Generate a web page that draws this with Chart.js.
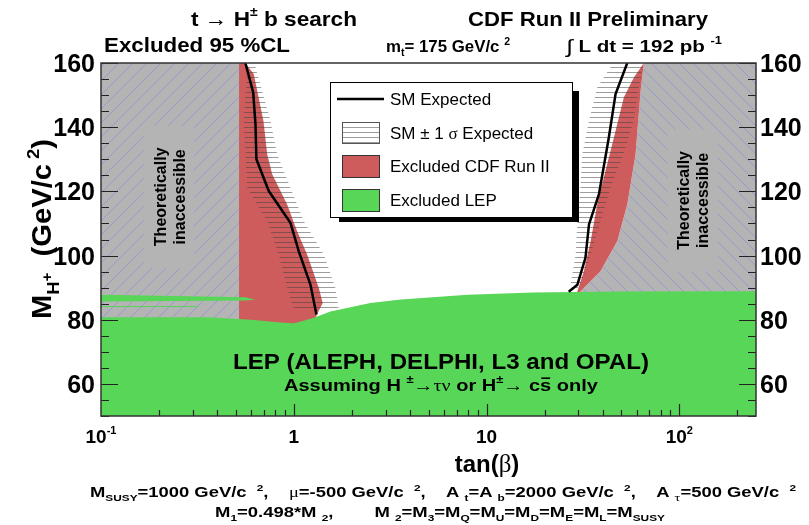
<!DOCTYPE html>
<html>
<head>
<meta charset="utf-8">
<script src="https://cdn.jsdelivr.net/npm/chart.js@4.4.0/dist/chart.umd.min.js"></script>
<style>
  body { margin: 0; background: #fff; }
  #wrap { width: 809px; height: 525px; }
</style>
</head>
<body>
<div id="wrap"><canvas id="grafik" width="809" height="525"></canvas></div>
<script>
// --- values (x = tan(beta), y = M_H+ in GeV/c^2) ---

// left "theoretically inaccessible" area
const leftGrayX = [0.1, 0.52, 0.52, 0.1];
const leftGrayY = [160, 160, 75, 75];

// right "theoretically inaccessible" area
const rightGrayX = [65.5, 63, 59.3, 53.7, 47.7, 39, 30.8, 28, 250, 250];
const rightGrayY = [160, 151.3, 131.6, 115.9, 104.5, 95.1, 88.9, 85, 85, 160];

// CDF Run II exclusion, low tan(beta)
const cdfLeftX = [0.52, 0.52, 0.561, 0.62, 0.696, 0.728, 0.773, 0.924, 1.041, 1.173, 1.349, 1.413, 1.32, 1.2, 0.52];
const cdfLeftY = [75, 160, 160, 156.6, 142, 131.6, 125.3, 115.9, 107.6, 100.3, 89.9, 85.2, 81.6, 75, 75];

// CDF Run II exclusion, high tan(beta)
const cdfRightX = [29.0, 29.6, 32, 34.7, 37.5, 40.6, 45.8, 51.6, 58.1, 65.5, 63, 59.3, 53.7, 47.7, 39, 30.8, 29.0];
const cdfRightY = [86, 88.9, 95.1, 104.5, 115.9, 124.3, 136.8, 149.3, 155.5, 160, 151.3, 131.6, 115.9, 104.5, 95.1, 88.9, 86];

// SM +-1 sigma expected bands
const bandLeftX = [1.0, 0.924, 0.836, 0.728, 0.573, 0.55, 0.573, 0.575, 0.64, 0.633, 0.757, 0.82, 0.96, 1.127, 1.432, 1.645, 1.71];
const bandLeftY = [83.6, 89.9, 100.3, 110.7, 121.2, 142, 158.7, 160, 160, 158.7, 142, 131.6, 121.2, 110.7, 100.3, 89.9, 83.6];
const bandRightX = [27.3, 29, 29.6, 30.7, 31.4, 34, 37.5, 44, 46, 66, 64.3, 57.9, 51.4, 44, 39, 34.7, 30.7, 28.5];
const bandRightY = [90.9, 100.3, 110.7, 121.2, 131.6, 142, 152.4, 158.7, 160, 160, 158.7, 142, 131.6, 121.2, 110.7, 100.3, 90.9, 88.5];

// SM expected limit
const smLeftX = [0.561, 0.616, 0.633, 0.64, 0.742, 0.961, 1.062, 1.221, 1.311];
const smLeftY = [160, 150.8, 140.9, 130, 120.1, 110.2, 101.3, 90.9, 81.6];
const smRightX = [53.7, 46.7, 43.1, 38.3, 34, 32.6, 29.6, 26.7];
const smRightY = [160, 150.3, 136.8, 119.1, 109.7, 99.3, 90.9, 88.7];

// LEP exclusion
const lepX = [0.1, 0.36, 0.6, 0.85, 1.0, 1.1, 1.26, 1.55, 2.5, 3.6, 8, 17.5, 50, 250, 250, 0.1];
const lepY = [80.8, 80.8, 80.0, 79.1, 78.9, 79.5, 80.5, 82.6, 85.2, 86.3, 87.8, 88.5, 88.8, 88.9, 50, 50];
const lepStripX = [0.1, 0.56, 0.63, 0.56, 0.1];
const lepStripY = [87.8, 87.0, 86.25, 86.0, 85.7];
const lepThinX = [0.1, 0.32];
const lepThinY = [84.1, 84.1];

// axes
const yMajorTicks = [60, 80, 100, 120, 140, 160];
const yMinorStep = 5;
const xDecades = [0.1, 1, 10, 100];
const xTickLabels = [[["10"], ["-1", 0.6, -0.5]], [["1"]], [["10"]], [["10"], ["2", 0.6, -0.5]]];
const legendLabels = ["SM Expected", "SM \u00b1 1 ", "Excluded CDF Run II", "Excluded LEP"];

const FONT = '"Liberation Sans", Arial, Helvetica, sans-serif';
const RED = "#cf5c5c";
const GREEN = "#57d657";
const GRAY = "#b4b4b4";

const pts = (xs, ys) => xs.map((x, i) => ({ x: x, y: ys[i] }));

// hatch patterns
const makeDiag = (dir) => {
  const n = 14;
  const c = document.createElement("canvas");
  c.width = n; c.height = n;
  const g = c.getContext("2d");
  g.fillStyle = GRAY;
  g.fillRect(0, 0, n, n);
  g.strokeStyle = "rgba(125,125,235,0.6)";
  g.lineWidth = 0.8;
  g.beginPath();
  if (dir > 0) { g.moveTo(-2, n + 2); g.lineTo(n + 2, -2); }
  else { g.moveTo(-2, -2); g.lineTo(n + 2, n + 2); }
  g.stroke();
  return g.createPattern(c, "repeat");
};
const makeHoriz = () => {
  const c = document.createElement("canvas");
  c.width = 6; c.height = 5;
  const g = c.getContext("2d");
  g.fillStyle = "rgba(60,60,60,0.5)";
  g.fillRect(0, 2, 6, 1);
  return g.createPattern(c, "repeat");
};
const hatchL = makeDiag(1);
const hatchR = makeDiag(-1);
const hatchH = makeHoriz();

const area = (xs, ys, bg, order) => ({
  data: pts(xs, ys), backgroundColor: bg, borderColor: "rgba(0,0,0,0)", borderWidth: 1,
  fill: "shape", pointRadius: 0, tension: 0, order: order
});
const curve = (xs, ys, color, width, order) => ({
  data: pts(xs, ys), borderColor: color, borderWidth: width, fill: false,
  pointRadius: 0, tension: 0, order: order
});

// text with sub/superscripts: parts = [text, sizeFactor, dyFactor, kind]
function richText(ctx, parts, x, y, size, align, fitW) {
  const fontOf = (p) => {
    const s = Math.round(size * (p[1] || 1));
    if (p[3] === "g") return s + 'px "Liberation Serif", serif';
    if (p[3] === "r") return s + "px " + FONT;
    return "bold " + s + "px " + FONT;
  };
  let w = 0;
  parts.forEach((p) => { ctx.font = fontOf(p); w += ctx.measureText(p[0]).width; });
  const k = fitW ? fitW / w : 1;
  const tw = w * k;
  const x0 = align === "center" ? x - tw / 2 : align === "right" ? x - tw : x;
  ctx.save();
  ctx.translate(x0, y);
  ctx.scale(k, 1);
  ctx.textAlign = "left";
  ctx.textBaseline = "alphabetic";
  let cx = 0;
  parts.forEach((p) => {
    ctx.font = fontOf(p);
    const dy = (p[2] || 0) * size;
    ctx.fillText(p[0], cx, dy);
    const pw = ctx.measureText(p[0]).width;
    if (p[3] === "bar") ctx.fillRect(cx + 1, dy - size * 0.8, pw - 2, 1.6);
    cx += pw;
  });
  ctx.restore();
}

const decor = {
  id: "decor",
  afterDatasetsDraw(chart) {
    const ctx = chart.ctx;
    const xs = chart.scales.x, ys = chart.scales.y;
    // "Theoretically inaccessible" boxes
    [[0.224, 118.3], [117, 117.2]].forEach(([bx, by]) => {
      const cx = xs.getPixelForValue(bx), cy = ys.getPixelForValue(by);
      ctx.fillStyle = GRAY;
      ctx.fillRect(cx - 25, cy - 71, 50, 142);
      ctx.save();
      ctx.translate(cx, cy);
      ctx.rotate(-Math.PI / 2);
      ctx.fillStyle = "#000";
      ctx.font = "bold 16px " + FONT;
      ctx.textAlign = "center";
      ctx.fillText("Theoretically", 0, -3);
      ctx.fillText("inaccessible", 0, 16);
      ctx.restore();
    });
  },
  afterDraw(chart) {
    const ctx = chart.ctx;
    const a = chart.chartArea;
    const xs = chart.scales.x, ys = chart.scales.y;
    ctx.save();

    // ticks
    ctx.strokeStyle = "#222";
    ctx.lineWidth = 1.2;
    ctx.beginPath();
    for (let v = 50; v <= 160; v += yMinorStep) {
      const py = Math.round(ys.getPixelForValue(v)) + 0.5;
      const len = yMajorTicks.includes(v) ? 17 : 8;
      ctx.moveTo(a.left, py); ctx.lineTo(a.left + len, py);
      ctx.moveTo(a.right, py); ctx.lineTo(a.right - len, py);
    }
    xDecades.forEach((d) => {
      for (let m = 1; m <= 9; m++) {
        const v = d * m;
        if (v <= xs.min || v >= xs.max) continue;
        const px = Math.round(xs.getPixelForValue(v)) + 0.5;
        ctx.moveTo(px, a.bottom); ctx.lineTo(px, a.bottom - (m === 1 ? 12 : 6));
      }
    });
    ctx.stroke();

    // frame
    ctx.strokeStyle = "#333";
    ctx.lineWidth = 1.5;
    ctx.strokeRect(a.left, a.top, a.right - a.left, a.bottom - a.top);

    ctx.fillStyle = "#000";
    // y tick labels, both sides
    yMajorTicks.forEach((v) => {
      const py = ys.getPixelForValue(v) + 9;
      richText(ctx, [[String(v)]], a.left - 6, py, 25, "right");
      richText(ctx, [[String(v)]], a.right + 4, py, 25, "left");
    });
    // x tick labels
    xDecades.forEach((d, i) => {
      richText(ctx, xTickLabels[i], xs.getPixelForValue(d), a.bottom + 27, 19, "center");
    });

    // axis titles
    richText(ctx, [["tan("], ["\u03b2", 1.05, 0, "g"], [")"]], 487, 472, 24, "center");
    ctx.save();
    ctx.translate(51, 229);
    ctx.rotate(-Math.PI / 2);
    richText(ctx, [["M"], ["H", 0.62, 0.3], ["+", 0.5, 0.02], ["  (GeV/c"], [" 2", 0.62, -0.45], [")"]], 0, 0, 27, "center", 180);
    ctx.restore();

    // header
    richText(ctx, [["t \u2192 H"], ["\u00b1", 0.6, -0.5], [" b search"]], 191, 26, 21, "left", 166);
    richText(ctx, [["CDF Run II Preliminary"]], 468, 26, 21, "left", 240);
    richText(ctx, [["Excluded 95 %CL"]], 104, 52, 21, "left", 186);
    richText(ctx, [["m"], ["t", 0.65, 0.25], ["= 175 GeV/c "], ["2", 0.65, -0.45]], 386, 52, 16, "left", 124);
    richText(ctx, [["\u222b", 1.2, 0.05, "r"], [" L dt = 192 pb "], ["-1", 0.65, -0.5]], 566, 52, 16, "left", 156);

    // LEP text
    richText(ctx, [["LEP (ALEPH, DELPHI, L3 and OPAL)"]], 441, 369, 22, "center", 416);
    richText(ctx, [["Assuming H "], ["\u00b1", 0.65, -0.45], ["\u2192\u03c4\u03bd", 1, 0, "g"], [" or H"], ["\u00b1", 0.65, -0.45],
      ["\u2192", 1, 0, "g"], [" c"], ["s", 1, 0, "bar"], [" only"]], 441, 391, 17, "center", 314);

    // footer
    richText(ctx, [["M"], ["SUSY", 0.62, 0.25], ["=1000 GeV/c  "], ["2", 0.62, -0.45], [",    "], ["\u03bc", 1, 0, "g"],
      ["=-500 GeV/c  "], ["2", 0.62, -0.45], [",    A "], ["t", 0.62, 0.25], ["=A "], ["b", 0.62, 0.25],
      ["=2000 GeV/c  "], ["2", 0.62, -0.45], [",    A "], ["\u03c4", 0.75, 0.25, "g"], ["=500 GeV/c  "], ["2", 0.62, -0.45]],
      90, 497, 14, "left", 706);
    richText(ctx, [["M"], ["1", 0.62, 0.25], ["=0.498*M "], ["2", 0.62, 0.25], [",        M "], ["2", 0.62, 0.25],
      ["=M"], ["3", 0.62, 0.25], ["=M"], ["Q", 0.62, 0.25], ["=M"], ["U", 0.62, 0.25], ["=M"], ["D", 0.62, 0.25],
      ["=M"], ["E", 0.62, 0.25], ["=M"], ["L", 0.62, 0.25], ["=M"], ["SUSY", 0.62, 0.25]], 215, 517, 14, "left", 450);

    // legend box with shadow
    ctx.fillStyle = "#000";
    ctx.fillRect(339, 91, 240, 131);
    ctx.fillStyle = "#fff";
    ctx.fillRect(330, 82, 243, 136);
    ctx.strokeStyle = "#000";
    ctx.lineWidth = 1;
    ctx.strokeRect(330.5, 82.5, 242, 135);

    ctx.lineWidth = 2.5;
    ctx.beginPath(); ctx.moveTo(337, 99); ctx.lineTo(384, 99); ctx.stroke();
    ctx.fillStyle = "#fff"; ctx.fillRect(342, 122, 38, 22);
    ctx.fillStyle = hatchH; ctx.fillRect(342, 122, 38, 22);
    ctx.fillStyle = RED; ctx.fillRect(342, 155, 38, 23);
    ctx.fillStyle = GREEN; ctx.fillRect(342, 189, 38, 23);
    ctx.lineWidth = 1;
    ctx.strokeStyle = "#555";
    ctx.strokeRect(342.5, 122.5, 37, 21);
    ctx.strokeStyle = "#333";
    ctx.strokeRect(342.5, 155.5, 37, 22);
    ctx.strokeRect(342.5, 189.5, 37, 22);
    ctx.fillStyle = "#000";
    richText(ctx, [[legendLabels[0], 1, 0, "r"]], 390, 105, 17, "left");
    richText(ctx, [[legendLabels[1], 1, 0, "r"], ["\u03c3", 1, 0, "g"], [" Expected", 1, 0, "r"]], 390, 139, 17, "left");
    richText(ctx, [[legendLabels[2], 1, 0, "r"]], 390, 172, 17, "left");
    richText(ctx, [[legendLabels[3], 1, 0, "r"]], 390, 206, 17, "left");
    ctx.restore();
  }
};

new Chart(document.getElementById("grafik").getContext("2d"), {
  type: "line",
  data: {
    datasets: [
      curve(smLeftX, smLeftY, "#000", 2.5, 1),
      curve(smRightX, smRightY, "#000", 2.5, 1),
      area(lepX, lepY, GREEN, 2),
      area(lepStripX, lepStripY, GREEN, 2),
      curve(lepThinX, lepThinY, GREEN, 1, 2),
      area(bandLeftX, bandLeftY, hatchH, 3),
      area(bandRightX, bandRightY, hatchH, 3),
      area(cdfLeftX, cdfLeftY, RED, 4),
      area(cdfRightX, cdfRightY, RED, 4),
      area(leftGrayX, leftGrayY, hatchL, 5),
      area(rightGrayX, rightGrayY, hatchR, 5)
    ]
  },
  options: {
    responsive: false,
    animation: false,
    events: [],
    layout: { padding: { left: 101, right: 53, top: 63, bottom: 109 } },
    scales: {
      x: { type: "logarithmic", min: 0.1, max: 250, display: false },
      y: { type: "linear", min: 50, max: 160, display: false }
    },
    plugins: { legend: { display: false }, tooltip: { enabled: false } }
  },
  plugins: [decor]
});
</script>
</body>
</html>
